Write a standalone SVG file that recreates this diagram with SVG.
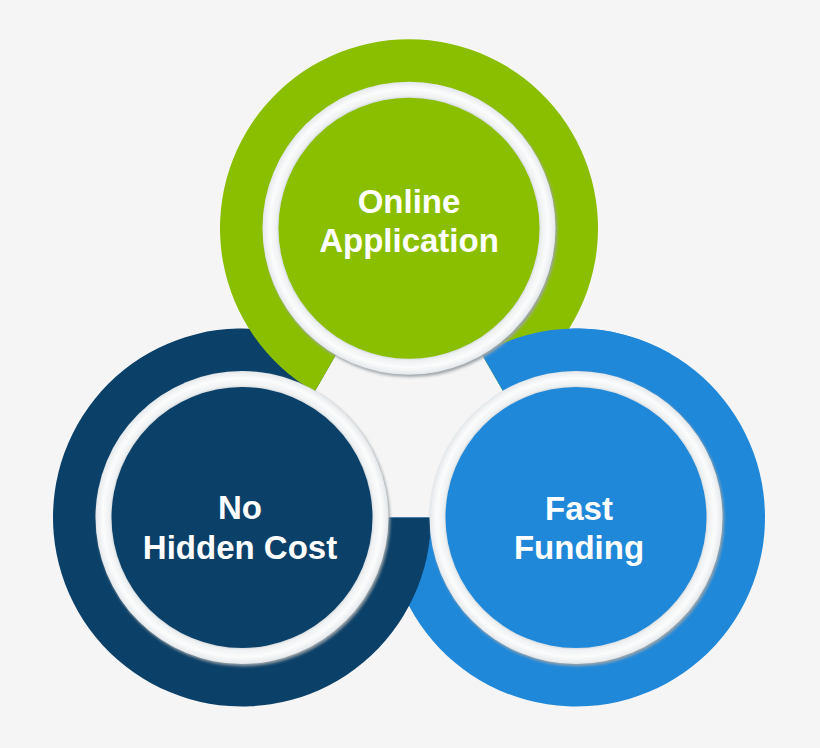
<svg xmlns="http://www.w3.org/2000/svg" width="820" height="748" viewBox="0 0 820 748">
  <defs>
    <radialGradient id="whiteRing" cx="0.5" cy="0.5" r="0.5">
      <stop offset="0" stop-color="#d3d9dc"/>
      <stop offset="0.885" stop-color="#cfd5d8"/>
      <stop offset="0.905" stop-color="#eef1f2"/>
      <stop offset="0.95" stop-color="#fbfcfc"/>
      <stop offset="0.985" stop-color="#eceff1"/>
      <stop offset="1" stop-color="#e2e6e8"/>
    </radialGradient>
    <filter id="shadow" x="-10%" y="-10%" width="120%" height="120%">
      <feGaussianBlur stdDeviation="1.5"/>
    </filter>
    <style>
      .green { fill: #8abf00; }
      .navy { fill: #0b4068; }
      .blue { fill: #1f88d9; }
      .ring { fill: url(#whiteRing); }
      .shadow { fill: #9ea4a8; filter: url(#shadow); }
      .label { font-family: "Liberation Sans", Arial, sans-serif; font-weight: 700; font-size: 33px; fill: #ffffff; text-anchor: middle; }
    </style>
  </defs>
  <rect x="0" y="0" width="820" height="748" fill="#f5f5f5"/>

  <g id="rings">
    <path id="ring-blue" class="blue" d="M 481.5 353.82 A 189 189 0 1 1 387 517.5 L 436 517.5 A 140 140 0 1 0 506 396.26 Z"/>
    <path id="ring-navy" class="navy" d="M 431 517.5 A 189 189 0 1 1 336.5 353.82 L 312 396.26 A 140 140 0 1 0 382 517.5 Z"/>
    <path id="ring-green" class="green" d="M 314.5 391.88 A 189 189 0 1 1 503.5 391.88 L 479 349.44 A 140 140 0 1 0 339 349.44 Z"/>
    <path id="ring-blue-top" class="blue" d="M 481.5 353.82 A 189 189 0 0 1 670.5 353.82 L 646 396.26 A 140 140 0 0 0 506 396.26 Z"/>
  </g>

  <g id="node-online-application">
    <circle class="shadow" cx="410.5" cy="230.5" r="146.5"/>
    <circle class="ring" cx="409" cy="228.2" r="146.5"/>
    <circle class="green" cx="409" cy="228.2" r="130.5"/>
    <text class="label" x="409" y="213">Online</text>
    <text class="label" x="409" y="252">Application</text>
  </g>

  <g id="node-no-hidden-cost">
    <circle class="shadow" cx="243.5" cy="519.5" r="146.5"/>
    <circle class="ring" cx="242" cy="517.5" r="146.5"/>
    <circle class="navy" cx="242" cy="517.5" r="130.5"/>
    <text class="label" x="240" y="519">No</text>
    <text class="label" x="240" y="559">Hidden Cost</text>
  </g>

  <g id="node-fast-funding">
    <circle class="shadow" cx="577.5" cy="519.5" r="146.5"/>
    <circle class="ring" cx="576" cy="517.5" r="146.5"/>
    <circle class="blue" cx="576" cy="517.5" r="130.5"/>
    <text class="label" x="579" y="520">Fast</text>
    <text class="label" x="579" y="559">Funding</text>
  </g>
</svg>
